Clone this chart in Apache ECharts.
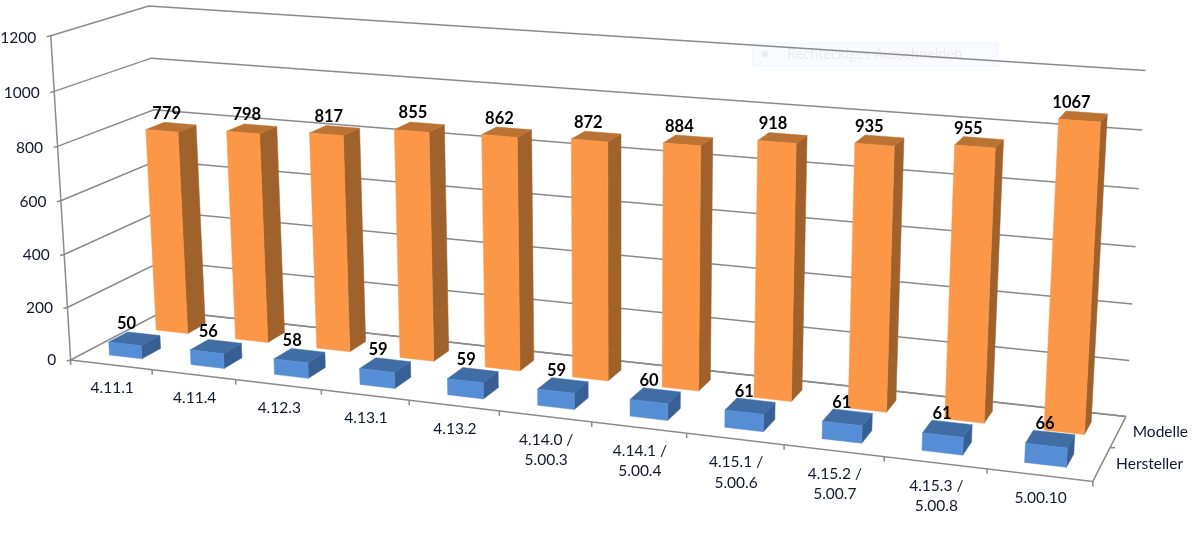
<!DOCTYPE html>
<html><head><meta charset="utf-8">
<style>html,body{margin:0;padding:0;background:#fff}#c{width:1196px;height:538px}</style>
<script src="https://cdn.jsdelivr.net/npm/echarts@6/dist/echarts.min.js"></script>
</head><body><div id="c"></div>
<script>
const categories = ['4.11.1','4.11.4','4.12.3','4.13.1','4.13.2','4.14.0 /\n5.00.3','4.14.1 /\n5.00.4','4.15.1 /\n5.00.6','4.15.2 /\n5.00.7','4.15.3 /\n5.00.8','5.00.10'];
const hersteller = [50,56,58,59,59,59,60,61,61,61,66];
const modelle = [779,798,817,855,862,872,884,918,935,955,1067];
const rowNames = ['Hersteller','Modelle'];
const yTicks = [0,200,400,600,800,1000,1200];

// Calibration of the 3D view: [u (along categories), v (value fraction), w (depth), screenX, screenY]
const view = [
 [0,0,0,70,359],[1,0,0,1093,480],[0,0,1,165,311],[1,0,1,1126,416],
 [0,1,0,51,36],[0,1,1,148,6],[1,1,1,1145.7,70.7],
 [1/11,0,0,152,370],[5/11,0,0,499,412],[10/11,0,0,987,470],
 [0,5/6,0,55,91],[0,5/6,1,151,58],[1,5/6,1,1142,130]
];
function solve(A,b){const n=b.length;const M=A.map((r,i)=>r.concat(b[i]));
 for(let i=0;i<n;i++){let p=i;for(let k=i+1;k<n;k++)if(Math.abs(M[k][i])>Math.abs(M[p][i]))p=k;
  [M[i],M[p]]=[M[p],M[i]];
  for(let k=0;k<n;k++){if(k===i)continue;const f=M[k][i]/M[i][i];for(let j=i;j<=n;j++)M[k][j]-=f*M[i][j];}}
 return M.map((r,i)=>r[n]/r[i]);}
const H=(function(){const rows=[],rhs=[];
 view.forEach(([u,v,w,X,Y])=>{X/=1000;Y/=1000;
  rows.push([1,u,v,w,0,0,0,0,-X*u,-X*v,-X*w]);rhs.push(X);
  rows.push([0,0,0,0,1,u,v,w,-Y*u,-Y*v,-Y*w]);rhs.push(Y);});
 const n=11,A=[],b=[];
 for(let i=0;i<n;i++){A.push([]);let s=0;for(let j=0;j<n;j++){let t=0;rows.forEach(r=>t+=r[i]*r[j]);A[i].push(t);}
  rows.forEach((r,k)=>s+=r[i]*rhs[k]);b.push(s);}
 return solve(A,b);})();
function proj(u,v,w){const d=1+H[8]*u+H[9]*v+H[10]*w;
 return [1000*(H[0]+H[1]*u+H[2]*v+H[3]*w)/d,1000*(H[4]+H[5]*u+H[6]*v+H[7]*w)/d];}

const G={left:100,top:50,width:1000,height:400};
const toU=px=>(px-G.left)/G.width, toV=py=>(G.top+G.height-py)/G.height;
const FONT='Lato, Carlito, "Open Sans", sans-serif';
const LINE={stroke:'#8a8a8a',lineWidth:1.5,fill:null};
const TXT='#10182c';
function pl(points,style){return {type:'polyline',shape:{points},style:Object.assign({},LINE,style||{}),silent:true};}
function txt(x,y,text,o){return {type:'text',silent:true,style:Object.assign({x,y,text,fill:TXT,fontFamily:FONT,fontSize:15.5,align:'center',verticalAlign:'middle'},o||{})};}

function renderWall(params,api){
 const val=api.value(1),v=toV(api.coord([0,val])[1]);
 const a=proj(0,v,0),b=proj(0,v,1),c=proj(1,v,1);
 return {type:'group',children:[
  pl([[a[0]-4,a[1]+1],a,b,c]),
  txt(a[0]-14.5,a[1]+2*v,String(val),{align:'right'})
 ]};
}
function renderFloor(params,api){
 const kids=[pl([proj(0,0,1),proj(1,0,1)]),pl([proj(0,0,0),proj(0,1,0)]),
   pl([proj(0,0,0),proj(1,0,0),proj(1,0,1)])];
 return {type:'group',children:kids};
}
function renderCat(params,api){
 const i=api.value(0),p=api.coord([i,0]),sw=api.size([1,0])[0];
 const u=toU(p[0]),c=proj(u,0,0),t=proj(toU(p[0]+sw/2),0,0);
 const kids=[pl([t,[t[0],t[1]+5]]),txt(c[0]+1,c[1]+13,categories[i],{verticalAlign:'top',lineHeight:20.5})];
 if(i===0){const s=proj(0,0,0);kids.push(pl([s,[s[0],s[1]+5]]));}
 return {type:'group',children:kids};
}
function renderRow(params,api){
 const i=api.value(0),n=rowNames.length;
 const w=(i+.5)/n,e=proj(1,0,w),t=proj(1,0,(i+1)/n);
 const kids=[txt(e[0]+14.5,e[1]+0,rowNames[i],{align:'left'})];
 if(i<n-1)kids.push(pl([t,[t[0]+5,t[1]]]));
 return {type:'group',children:kids};
}
const BARW=0.40,DEPTHW=0.40;
function barRender(rowIndex,colors){
 return function(params,api){
  const i=api.value(0),val=api.value(1),p=api.coord([i,val]),sw=api.size([1,0])[0];
  const uc=toU(p[0]),du=(sw/G.width)*BARW/2,v=toV(p[1]);
  const u0=uc-du,u1=uc+du,n=rowNames.length,wc=(rowIndex+.5)/n,dw=(1/n)*DEPTHW/2,w0=wc-dw,w1=wc+dw;
  const f=[proj(u0,0,w0),proj(u1,0,w0),proj(u1,v,w0),proj(u0,v,w0)];
  const t=[proj(u0,v,w0),proj(u1,v,w0),proj(u1,v,w1),proj(u0,v,w1)];
  const s=[proj(u1,0,w0),proj(u1,0,w1),proj(u1,v,w1),proj(u1,v,w0)];
  const poly=(pts,fill)=>({type:'polygon',silent:true,shape:{points:pts},style:{fill,stroke:fill,lineWidth:.5}});
  return {type:'group',children:[poly(s,colors.side),poly(t,colors.top),poly(f,colors.front)]};
 };
}
function labelRender(rowIndex){
 return function(params,api){
  const i=api.value(0),val=api.value(1),p=api.coord([i,val]),u=toU(p[0]);
  const n=rowNames.length,c=proj(u,toV(p[1]),(rowIndex+.5)/n);
  const dx=rowIndex===1?-4-8*u:-8+3*u, dy=rowIndex===1?-14:-15;
  return txt(c[0]+dx,c[1]+dy,String(val),{fontWeight:'bold',fill:'#000',fontSize:16.5});
 };
}
const ORANGE={front:'#FC9747',side:'#A0622C',top:'#BB7334'};
const BLUE={front:'#568ED6',side:'#375F93',top:'#3F6DA4'};
const pairs=a=>a.map((v,i)=>[i,v]);
const custom=(name,data,renderItem,z)=>({type:'custom',name,data,renderItem,z,animation:false,silent:true,clip:false,xAxisIndex:0,yAxisIndex:0});

const chart=echarts.init(document.getElementById('c'),null,{renderer:'canvas'});
chart.setOption({
 animation:false,backgroundColor:'#fff',
 grid:G,
 xAxis:{type:'category',data:categories,show:false},
 yAxis:{type:'value',min:0,max:1200,interval:200,show:false},
 graphic:[
  {type:'rect',z:0,silent:true,shape:{x:753,y:43,width:245,height:23},style:{fill:'#f8fbff',stroke:'#eff5fb',lineWidth:1}},
  {type:'circle',z:0,silent:true,shape:{cx:765,cy:54,r:3.5},style:{fill:'#ececec'}},
  {type:'text',z:0,silent:true,style:{x:787,y:54,text:'Rechteckiges Ausschneiden',fill:'#ebebeb',fontFamily:FONT,fontSize:14.5,verticalAlign:'middle'}}
 ],
 series:[
  custom('wall',yTicks.map(v=>[0,v]),renderWall,2),
  custom('floor',[[0,0]],renderFloor,2),
  custom('cats',categories.map((c,i)=>[i,0]),renderCat,2),
  custom('rows',rowNames.map((c,i)=>[i,0]),renderRow,2),
  custom('Modelle',pairs(modelle),barRender(1,ORANGE),3),
  custom('Hersteller',pairs(hersteller),barRender(0,BLUE),4),
  custom('labelsM',pairs(modelle),labelRender(1),5),
  custom('labelsH',pairs(hersteller),labelRender(0),5)
 ]
});
</script></body></html>
